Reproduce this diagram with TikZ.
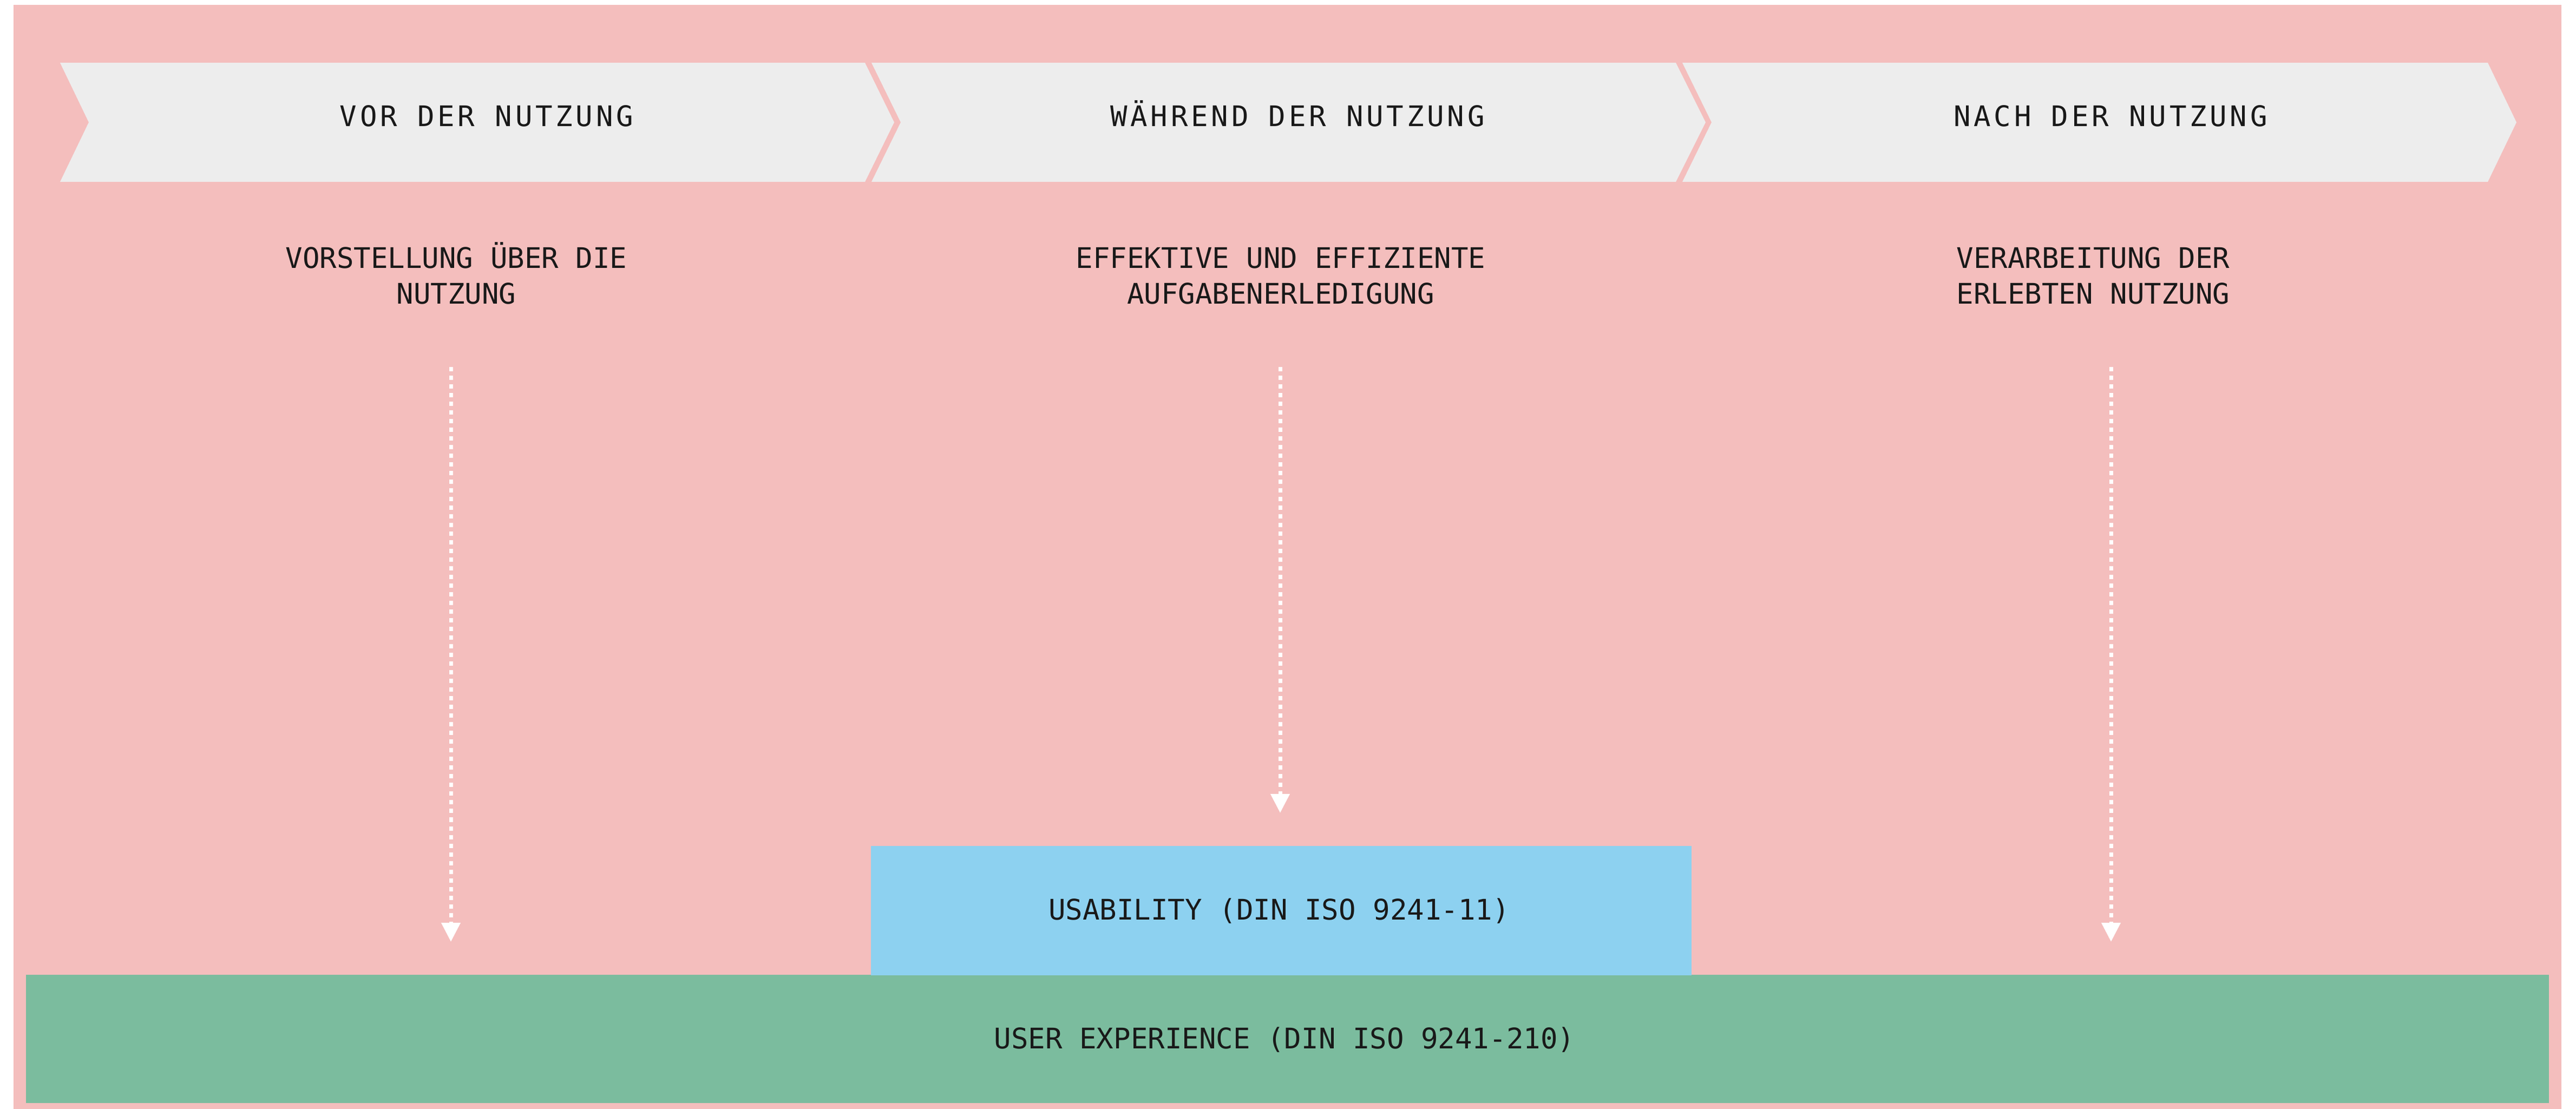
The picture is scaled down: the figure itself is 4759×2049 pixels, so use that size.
\documentclass[tikz,border=0pt]{standalone}
\usepackage{fontspec}
\usetikzlibrary{arrows.meta}
\newfontfamily\monotext{DejaVu Sans Mono}
\newfontfamily\monowide{DejaVu Sans Mono}[LetterSpace=11]
\definecolor{bgpink}{RGB}{244,190,189}
\definecolor{chevgray}{RGB}{237,237,237}
\definecolor{usablue}{RGB}{141,209,240}
\definecolor{uxgreen}{RGB}{123,188,158}
\definecolor{txtdark}{RGB}{25,25,25}
\begin{document}
\begin{tikzpicture}[x=0.01cm,y=-0.01cm,
  chevshape/.style={fill=chevgray},
  headtxt/.style={font=\monowide\fontsize{14.9}{18.9}\selectfont, text=txtdark, inner sep=0pt, anchor=base},
  subtxt/.style={font=\monotext\fontsize{14.9}{18.9}\selectfont, text=txtdark, align=center, inner sep=0pt, anchor=base},
  boxtxt/.style={font=\monotext\fontsize{14.9}{18.9}\selectfont, text=txtdark, inner sep=0pt, anchor=base},
  flow/.style={white, line width=0.07cm, dash pattern=on 0.08cm off 0.08cm,
    -{Triangle[width=0.34cm,length=0.35cm]}}
]
\useasboundingbox (0,0) rectangle (4759,2049);
% background
\fill[bgpink] (25,9) rectangle (4732,2049);
% chevrons
\fill[chevshape] (111,116) -- (1598,116) -- (1652,226) -- (1598,336) -- (111,336) -- (164,226) -- cycle;
\fill[chevshape] (1610,116) -- (3096,116) -- (3151,226) -- (3096,336) -- (1610,336) -- (1664,226) -- cycle;
\fill[chevshape] (3108,116) -- (4596,116) -- (4649,226) -- (4596,336) -- (3108,336) -- (3162,226) -- cycle;
\node[headtxt] (h1) at (899,234) {VOR DER NUTZUNG};
\node[headtxt] (h2) at (2397,234) {WÄHREND DER NUTZUNG};
\node[headtxt] (h3) at (3899,234) {NACH DER NUTZUNG};
% sub texts (base = baseline of last line)
\node[subtxt] (s1) at (843,562) {VORSTELLUNG ÜBER DIE\\NUTZUNG};
\node[subtxt] (s2) at (2366,562) {EFFEKTIVE UND EFFIZIENTE\\AUFGABENERLEDIGUNG};
\node[subtxt] (s3) at (3867,562) {VERARBEITUNG DER\\ERLEBTEN NUTZUNG};
% boxes
\fill[uxgreen] (48,1801) rectangle (4709,2038);
\fill[usablue] (1609,1563) rectangle (3125,1802);
\node[boxtxt] (usa) at (2363,1699) {USABILITY (DIN ISO 9241-11)};
\node[boxtxt] (ux) at (2373,1937) {USER EXPERIENCE (DIN ISO 9241-210)};
% arrows
\coordinate (a1s) at (833,678);
\coordinate (a1e) at (833,1740);
\coordinate (a2s) at (2365,678);
\coordinate (a2e) at (2365,1502);
\coordinate (a3s) at (3900,678);
\coordinate (a3e) at (3900,1740);
\draw[flow] (a1s) -- (a1e);
\draw[flow] (a2s) -- (a2e);
\draw[flow] (a3s) -- (a3e);
\end{tikzpicture}
\end{document}
